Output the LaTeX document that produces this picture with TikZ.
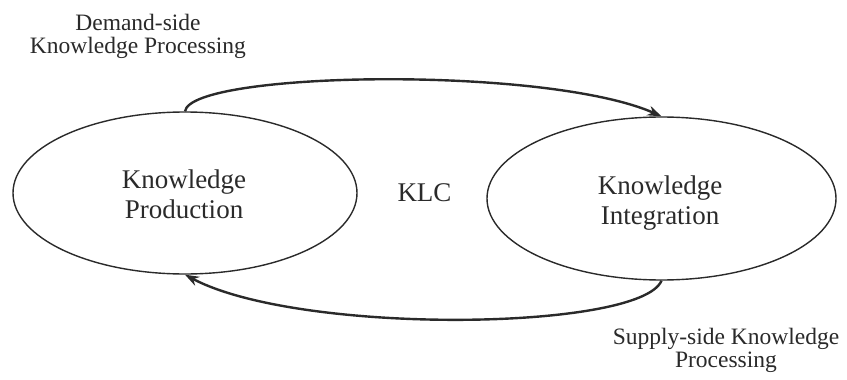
\documentclass[tikz,border=0pt]{standalone}
\usepackage{fontspec}
\setmainfont{Liberation Serif}
\usetikzlibrary{shapes.geometric,arrows.meta}
\definecolor{ink}{HTML}{2A2A2A}
\begin{document}
\begin{tikzpicture}[x=1pt,y=-1pt,
  stage/.style={ellipse,draw=ink,line width=1.4pt,inner sep=0pt,
    minimum width=344pt,minimum height=162pt},
  stagetext/.style={font=\fontsize{27}{30}\selectfont,text=ink,align=center},
  sidelabel/.style={font=\fontsize{23.5}{23}\selectfont,text=ink,align=center,inner sep=0pt},
  flow/.style={draw=ink,line width=2.4pt,-{Stealth[length=14pt,width=10pt]}}]
\useasboundingbox (0,0) rectangle (847,380);
\node[stage] (prod) at (185,193) {};
\node[stage,minimum width=349pt,minimum height=163pt] (integ) at (661.5,198.5) {};
\node[stagetext,inner sep=0pt] (prodtxt) at (184,194) {Knowledge\\Production};
\node[stagetext,inner sep=0pt] (integtxt) at (660,203) {Knowledge\\Integration};
\node[stagetext,inner sep=0pt] (klc) at (424.5,192.5) {KLC};
\node[sidelabel] (demand) at (138,36) {Demand-side\\Knowledge Processing};
\node[sidelabel] (supply) at (726,350) {Supply-side Knowledge\\Processing};
\draw[flow] (prod.north) .. controls +(6,-40) and +(-116,-51) .. (integ.north);
\draw[flow] (integ.south) .. controls +(-21,50) and +(115,61) .. (prod.south);
\end{tikzpicture}
\end{document}
